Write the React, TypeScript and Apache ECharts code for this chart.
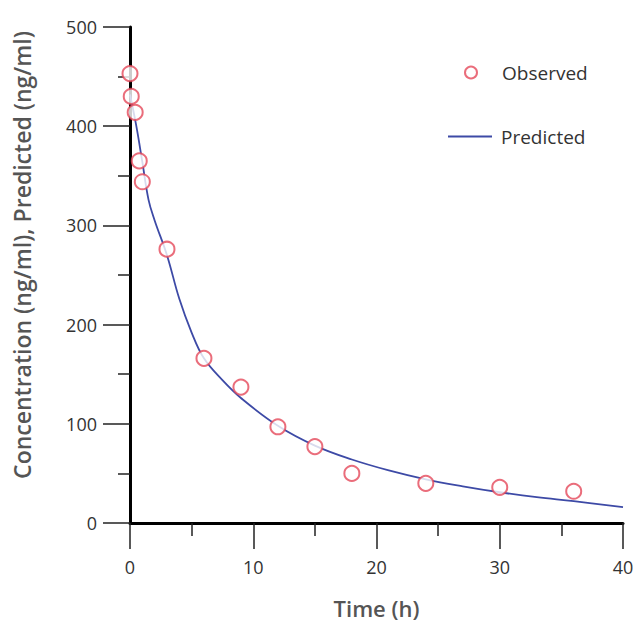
import React, { useEffect, useRef } from "react";
import * as echarts from "echarts";

// Observed concentrations (ng/ml)
const obsTimes = [0, 0.1, 0.42, 0.75, 1, 3, 6, 9, 12, 15, 18, 24, 30, 36];
const obsValues = [453, 430, 414, 365, 344, 276, 166, 137, 97, 77, 50, 40, 36, 32];

// Predicted curve
const predTimes = [0, 0.5, 1, 1.5, 2, 3, 4, 5, 6, 7.5, 9, 12, 15, 18, 21, 24, 27, 30, 33, 36, 40];
const predValues = [432, 401, 364, 326, 305, 270, 226, 192, 166, 144, 126, 98, 78, 64, 53, 44, 37, 31, 26, 22, 16];

const xTicks = [0, 10, 20, 30, 40];
const yTicks = [0, 100, 200, 300, 400, 500];

const FONT = "'Open Sans', 'Noto Sans', sans-serif";
const RED = "#e5485a";
const BLUE = "#3d4aa6";

export default function App() {
  const ref = useRef<HTMLDivElement>(null);
  useEffect(() => {
    if (!ref.current) return;
    const chart = echarts.init(ref.current, undefined, { renderer: "svg" });
    chart.setOption({
      animation: false,
      backgroundColor: "#ffffff",
      grid: { left: 130, right: 14, top: 27, bottom: 103 },
      legend: [
        {
          left: 459,
          top: 58,
          itemWidth: 12,
          itemHeight: 12,
          textStyle: { fontFamily: FONT, fontSize: 19, color: "#333", padding: [0, 0, 0, 20] },
          data: [{ name: "Observed", icon: "emptyCircle" }],
        },
        {
          left: 443,
          top: 122,
          itemWidth: 44,
          itemHeight: 2,
          textStyle: { fontFamily: FONT, fontSize: 19, color: "#333", padding: [0, 0, 0, 4] },
          data: [{ name: "Predicted", icon: "rect", itemStyle: { color: BLUE } }],
        },
      ],
      xAxis: {
        type: "value",
        min: xTicks[0],
        max: xTicks[xTicks.length - 1],
        interval: 10,
        name: "Time (h)",
        nameLocation: "middle",
        nameGap: 74,
        nameTextStyle: { fontFamily: FONT, fontSize: 22, fontWeight: 600, color: "#555" },
        axisLine: { onZero: false, lineStyle: { color: "#000", width: 3 } },
        axisTick: { show: true, inside: false, length: 26, lineStyle: { color: "#222", width: 1.5 } },
        minorTick: { show: true, splitNumber: 2, length: 13, lineStyle: { color: "#222", width: 1.5 } },
        axisLabel: { fontFamily: FONT, fontSize: 18, color: "#333", margin: 35 },
        splitLine: { show: false },
      },
      yAxis: {
        type: "value",
        min: yTicks[0],
        max: yTicks[yTicks.length - 1],
        interval: 100,
        name: "Concentration (ng/ml), Predicted (ng/ml)",
        nameLocation: "middle",
        nameGap: 97,
        nameTextStyle: {
          fontFamily: FONT,
          fontSize: 23,
          fontWeight: 600,
          color: "#555",
          padding: [0, 0, 0, 40],
        },
        axisLine: { onZero: false, lineStyle: { color: "#000", width: 3 } },
        axisTick: { show: true, inside: false, length: 27, lineStyle: { color: "#222", width: 1.5 } },
        minorTick: { show: true, splitNumber: 2, length: 12, lineStyle: { color: "#222", width: 1.5 } },
        axisLabel: { fontFamily: FONT, fontSize: 18, color: "#333", margin: 33 },
        splitLine: { show: false },
      },
      series: [
        {
          name: "Observed",
          type: "scatter",
          symbol: "emptyCircle",
          symbolSize: 15,
          itemStyle: { color: RED, borderColor: RED, borderWidth: 1.6 },
          data: obsTimes.map((t, i) => [t, obsValues[i]]),
          z: 3,
        },
        {
          name: "Predicted",
          type: "line",
          smooth: 0.4,
          showSymbol: false,
          symbol: "none",
          lineStyle: { color: BLUE, width: 1.8 },
          itemStyle: { color: BLUE },
          data: predTimes.map((t, i) => [t, predValues[i]]),
          z: 2,
        },
      ],
    });
    return () => chart.dispose();
  }, []);
  return <div ref={ref} style={{ width: 637, height: 626, position: "absolute", left: 0, top: 0 }} />;
}
